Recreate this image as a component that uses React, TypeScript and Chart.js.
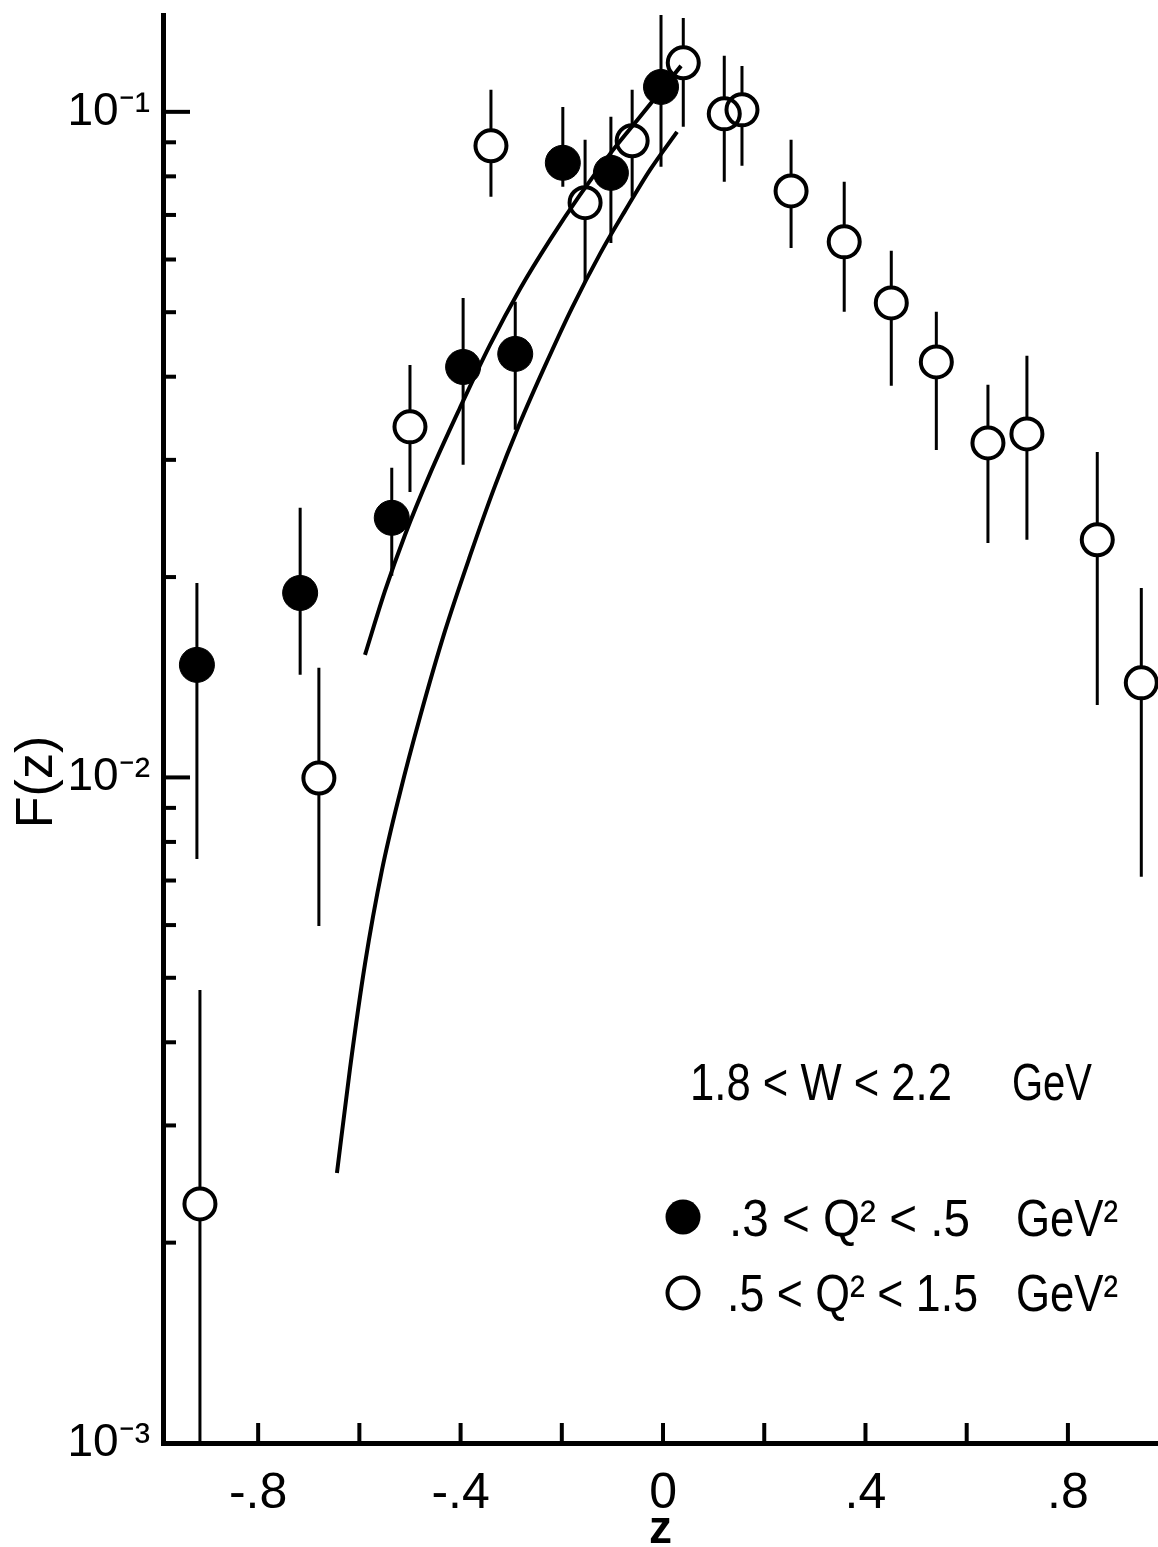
import React, { useEffect, useRef } from 'react';
import { Chart, registerables } from 'chart.js';

Chart.register(...registerables);

const FONT = '"Liberation Sans", Arial, sans-serif';

// ---- data: .3 < Q^2 < .5 GeV^2 (filled circles) ----
const lowQ2Z = [-0.921, -0.717, -0.536, -0.395, -0.292, -0.198, -0.103, -0.004];
const lowQ2F = [0.01476, 0.01893, 0.02455, 0.04137, 0.04328, 0.08384, 0.08097, 0.1090];
const lowQ2Hi = [0.0196, 0.02541, 0.02918, 0.05254, 0.05182, 0.1017, 0.09829, 0.1413];
const lowQ2Lo = [0.00754, 0.01426, 0.02009, 0.02949, 0.03328, 0.07717, 0.06355, 0.0827];

// ---- data: .5 < Q^2 < 1.5 GeV^2 (open circles) ----
const highQ2Z = [-0.915, -0.68, -0.5, -0.34, -0.154, -0.061, 0.04, 0.121, 0.156, 0.253, 0.358, 0.451, 0.54, 0.642, 0.719, 0.858, 0.945];
const highQ2F = [0.002287, 0.00998, 0.03363, 0.08891, 0.07302, 0.09046, 0.1185, 0.09931, 0.1007, 0.07606, 0.06378, 0.05164, 0.04209, 0.03181, 0.03282, 0.02275, 0.01387];
const highQ2Hi = [0.004794, 0.01461, 0.04167, 0.1079, 0.09077, 0.1079, 0.1384, 0.1214, 0.1172, 0.09077, 0.07852, 0.06182, 0.05006, 0.03889, 0.04299, 0.03083, 0.01926];
const highQ2Lo = [0.0009, 0.00598, 0.02685, 0.07455, 0.05553, 0.07455, 0.09495, 0.07852, 0.08297, 0.06246, 0.05006, 0.03876, 0.03105, 0.02251, 0.02275, 0.01285, 0.00709];

// ---- curves ----
const upperCurveZ = [-0.5889, -0.5494, -0.5099, -0.4605, -0.4012, -0.3419, -0.2826, -0.2233, -0.164, -0.1047, -0.0455, 0.0356];
const upperCurveF = [0.015281, 0.019063, 0.023137, 0.028582, 0.035925, 0.04466, 0.0542, 0.064228, 0.075044, 0.086475, 0.09829, 0.11724];
const lowerCurveZ = [-0.6443, -0.6186, -0.5889, -0.5553, -0.5198, -0.4802, -0.4308, -0.3814, -0.332, -0.2826, -0.2332, -0.1798, -0.1245, -0.0751, -0.0257, 0.0277];
const lowerCurveF = [0.002544, 0.003648, 0.005246, 0.007261, 0.009478, 0.012325, 0.016599, 0.021516, 0.027416, 0.034099, 0.041518, 0.050758, 0.06118, 0.070993, 0.081808, 0.093307];

// ---- axes ----
const X_MIN = -0.988;
const X_MAX = 0.978;
const Y_MIN = 0.001;
const Y_MAX = 0.1398;
const xMajorTicks = [-0.8, -0.4, 0, 0.4, 0.8];
const xTickLabels = ['-.8', '-.4', '0', '.4', '.8'];
const xMinorTicks = [-0.6, -0.2, 0.2, 0.6];
const yMajorTicks = [0.001, 0.01, 0.1];
const yTickLabels = ['10\u207B\u00B3', '10\u207B\u00B2', '10\u207B\u00B9'];
const yMinorTicks = [0.002, 0.003, 0.004, 0.005, 0.006, 0.007, 0.008, 0.009, 0.02, 0.03, 0.04, 0.05, 0.06, 0.07, 0.08, 0.09];
const xTitle = 'z';
const yTitle = 'F(z)';

// ---- legend text ----
const rangeLabel = '1.8 < W < 2.2';
const rangeUnit = 'GeV';
const lowQ2Label = '.3 < Q\u00B2 < .5';
const highQ2Label = '.5 < Q\u00B2 < 1.5';
const q2Unit = 'GeV\u00B2';

const OPEN_R = 15.5;

const errorBarPlugin = {
  id: 'errorBars',
  beforeDatasetsDraw(chart: any) {
    const { ctx, chartArea, scales } = chart;
    const x = scales.x;
    const y = scales.y;
    ctx.save();
    ctx.beginPath();
    ctx.rect(chartArea.left, chartArea.top, chartArea.right - chartArea.left, chartArea.bottom - chartArea.top);
    ctx.clip();
    ctx.strokeStyle = '#000';
    ctx.lineWidth = 3;
    chart.data.datasets.forEach((ds: any) => {
      if (!ds.errHi) return;
      const gap = ds.errGap || 0;
      ds.data.forEach((pt: any, i: number) => {
        const px = x.getPixelForValue(pt.x);
        const py = y.getPixelForValue(pt.y);
        const pHi = y.getPixelForValue(ds.errHi[i]);
        const pLo = y.getPixelForValue(ds.errLo[i]);
        ctx.beginPath();
        ctx.moveTo(px, pHi);
        ctx.lineTo(px, py - gap);
        ctx.moveTo(px, py + gap);
        ctx.lineTo(px, pLo);
        ctx.stroke();
      });
    });
    ctx.restore();
  },
};

const framePlugin = {
  id: 'frameDecor',
  afterDraw(chart: any) {
    const { ctx, chartArea, scales } = chart;
    const x = scales.x;
    const y = scales.y;
    ctx.save();
    ctx.strokeStyle = '#000';
    ctx.fillStyle = '#000';
    ctx.lineWidth = 4;
    // inward ticks on y axis
    yMajorTicks.forEach((v) => {
      const py = y.getPixelForValue(v);
      ctx.beginPath();
      ctx.moveTo(chartArea.left, py);
      ctx.lineTo(chartArea.left + 27, py);
      ctx.stroke();
    });
    yMinorTicks.forEach((v) => {
      const py = y.getPixelForValue(v);
      ctx.beginPath();
      ctx.moveTo(chartArea.left, py);
      ctx.lineTo(chartArea.left + 13, py);
      ctx.stroke();
    });
    // inward ticks on x axis
    [...xMajorTicks, ...xMinorTicks].forEach((v) => {
      const px = x.getPixelForValue(v);
      ctx.beginPath();
      ctx.moveTo(px, chartArea.bottom);
      ctx.lineTo(px, chartArea.bottom - 20);
      ctx.stroke();
    });

    // y title
    ctx.save();
    ctx.translate(52, 782);
    ctx.rotate(-Math.PI / 2);
    ctx.font = `52px ${FONT}`;
    ctx.textAlign = 'center';
    ctx.textBaseline = 'alphabetic';
    ctx.fillText(yTitle, 0, 0);
    ctx.restore();

    // legend / annotation
    const drawFit = (text: string, left: number, right: number, base: number) => {
      ctx.save();
      ctx.font = `52px ${FONT}`;
      ctx.textAlign = 'left';
      ctx.textBaseline = 'alphabetic';
      const w = ctx.measureText(text).width;
      const sx = (right - left) / w;
      ctx.translate(left, base);
      ctx.scale(sx, 1);
      ctx.fillText(text, 0, 0);
      ctx.restore();
    };
    drawFit(rangeLabel, 690, 952, 1100);
    drawFit(rangeUnit, 1012, 1092, 1100);

    ctx.beginPath();
    ctx.arc(683, 1217, 17.5, 0, Math.PI * 2);
    ctx.fill();
    drawFit(lowQ2Label, 729, 970, 1236);
    drawFit(q2Unit, 1016, 1118, 1236);

    ctx.beginPath();
    ctx.lineWidth = 4;
    ctx.arc(683, 1293, OPEN_R, 0, Math.PI * 2);
    ctx.stroke();
    drawFit(highQ2Label, 727, 978, 1311);
    drawFit(q2Unit, 1016, 1118, 1311);

    ctx.restore();
  },
};

export default function App() {
  const canvasRef = useRef<HTMLCanvasElement | null>(null);

  useEffect(() => {
    const canvas = canvasRef.current;
    if (!canvas) return;
    const filled = lowQ2Z.map((z, i) => ({ x: z, y: lowQ2F[i] }));
    const open = highQ2Z.map((z, i) => ({ x: z, y: highQ2F[i] }));
    const upper = upperCurveZ.map((z, i) => ({ x: z, y: upperCurveF[i] }));
    const lower = lowerCurveZ.map((z, i) => ({ x: z, y: lowerCurveF[i] }));

    const chart = new Chart(canvas, {
      type: 'scatter',
      data: {
        datasets: [
          {
            label: lowQ2Label,
            data: filled,
            pointRadius: 17.5,
            pointBackgroundColor: '#000',
            pointBorderColor: '#000',
            pointBorderWidth: 1,
            showLine: false,
            errHi: lowQ2Hi,
            errLo: lowQ2Lo,
            errGap: 0,
          } as any,
          {
            label: highQ2Label,
            data: open,
            pointRadius: OPEN_R,
            pointBackgroundColor: 'rgba(0,0,0,0)',
            pointBorderColor: '#000',
            pointBorderWidth: 4,
            showLine: false,
            errHi: highQ2Hi,
            errLo: highQ2Lo,
            errGap: OPEN_R,
          } as any,
          {
            label: 'fit upper',
            data: upper,
            showLine: true,
            pointRadius: 0,
            borderColor: '#000',
            borderWidth: 4,
            cubicInterpolationMode: 'monotone',
            fill: false,
          },
          {
            label: 'fit lower',
            data: lower,
            showLine: true,
            pointRadius: 0,
            borderColor: '#000',
            borderWidth: 4,
            cubicInterpolationMode: 'monotone',
            fill: false,
          },
        ],
      },
      options: {
        animation: false,
        responsive: false,
        maintainAspectRatio: false,
        events: [],
        layout: { autoPadding: false, padding: { top: 15, right: 0, bottom: 0, left: 0 } },
        plugins: {
          legend: { display: false },
          tooltip: { enabled: false },
        },
        scales: {
          x: {
            type: 'linear',
            min: X_MIN,
            max: X_MAX,
            bounds: 'data',
            afterBuildTicks: (s: any) => {
              s.ticks = [...xMajorTicks, ...xMinorTicks].sort((a, b) => a - b).map((v) => ({ value: v }));
            },
            ticks: {
              autoSkip: false,
              maxRotation: 0,
              minRotation: 0,
              padding: 21,
              color: '#000',
              font: { family: FONT, size: 50 },
              callback: (v: any) => {
                const i = xMajorTicks.findIndex((t) => Math.abs(t - Number(v)) < 1e-9);
                return i >= 0 ? xTickLabels[i] : '';
              },
            },
            grid: { display: false, drawTicks: false },
            border: { display: true, color: '#000', width: 5 },
            title: {
              display: true,
              text: xTitle,
              color: '#000',
              font: { family: FONT, size: 46, weight: 'bold', lineHeight: 1 },
              padding: { top: 0, bottom: -6 },
            },
            afterFit: (s: any) => {
              s.height = 104;
              s.paddingLeft = 0;
              s.paddingRight = 0;
            },
          },
          y: {
            type: 'logarithmic',
            min: Y_MIN,
            max: Y_MAX,
            bounds: 'data',
            afterBuildTicks: (s: any) => {
              s.ticks = [...yMajorTicks, ...yMinorTicks].sort((a, b) => a - b).map((v) => ({ value: v }));
            },
            ticks: {
              autoSkip: false,
              padding: 13,
              color: '#000',
              font: { family: FONT, size: 46 },
              callback: (v: any) => {
                const i = yMajorTicks.findIndex((t) => Math.abs(t - Number(v)) / t < 1e-6);
                return i >= 0 ? yTickLabels[i] : '';
              },
            },
            grid: { display: false, drawTicks: false },
            border: { display: true, color: '#000', width: 5 },
            afterFit: (s: any) => {
              s.width = 163;
              s.paddingTop = 0;
              s.paddingBottom = 0;
            },
          },
        },
      } as any,
      plugins: [errorBarPlugin, framePlugin],
    });
    return () => chart.destroy();
  }, []);

  return (
    <div style={{ position: 'absolute', left: 0, top: 0, width: 1158, height: 1547, background: '#fff' }}>
      <canvas ref={canvasRef} width={1158} height={1547} style={{ display: 'block' }} />
    </div>
  );
}
